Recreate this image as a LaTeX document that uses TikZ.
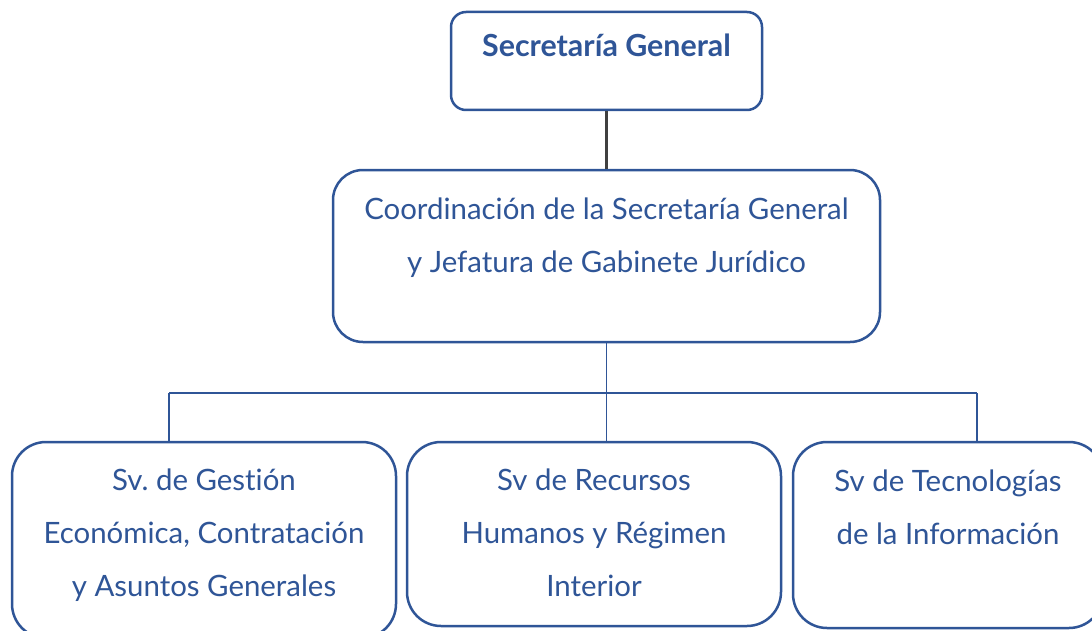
\documentclass[tikz,border=0pt]{standalone}
\usepackage{fontspec}
\setmainfont{Lato}[Ligatures=NoCommon]
\usepackage{tikz}
\definecolor{orgblue}{RGB}{47,85,151}
\definecolor{orggray}{RGB}{64,64,64}
\frenchspacing

\begin{document}
\begin{tikzpicture}[x=0.5pt, y=-0.5pt,
    box/.style = {draw=orgblue, line width=1.25pt, fill=white, inner sep=0pt},
    txt/.style = {text=orgblue, align=center, anchor=base, inner sep=0pt,
      font=\fontsize{14.7}{26.5}\selectfont},
    link/.style = {draw=orgblue, line width=0.7pt}]
    \clip (0,0) rectangle (1092,631);
    \node[box, rounded corners=7.5pt, minimum width=155.5pt, minimum height=49pt] (sg) at (606.5,61) {};
    \node[box, rounded corners=15pt, minimum width=273.5pt, minimum height=86pt] (coord) at (606.5,256) {};
    \node[box, rounded corners=17pt, minimum width=192pt, minimum height=98pt] (gest) at (204,540) {};
    \node[box, rounded corners=17pt, minimum width=187pt, minimum height=92pt] (rec) at (594,534) {};
    \node[box, rounded corners=17pt, minimum width=155pt, minimum height=93pt] (tec) at (948,535) {};
    % base anchor = last line
    \node[txt, font=\fontsize{15.2}{26.5}\selectfont\bfseries] (sgtxt) at (606.5,57) {Secretaría General};
    \node[txt] (coordtxt) at (606.5,272) {Coordinación de la Secretaría General\\y Jefatura de Gabinete Jurídico};
    \node[txt] (gesttxt) at (204,596) {Sv. de Gestión\\Económica, Contratación\\y Asuntos Generales};
    \node[txt] (rectxt) at (594,596) {Sv de Recursos\\Humanos y Régimen\\Interior};
    \node[txt] (tectxt) at (948,544) {Sv de Tecnologías\\de la Información};
    \coordinate (gl) at (169,393);
    \coordinate (tr) at (977,393);
    \draw[orggray, line width=1.5pt] (sg) -- (coord);
    \draw[link] (coord.south) -- (coord.south |- rec.north);
    \draw[link] (gl) -- (tr);
    \draw[link] (gl) -- (gl |- gest.north);
    \draw[link] (tr) -- (tr |- tec.north);
  \end{tikzpicture}
\end{document}
